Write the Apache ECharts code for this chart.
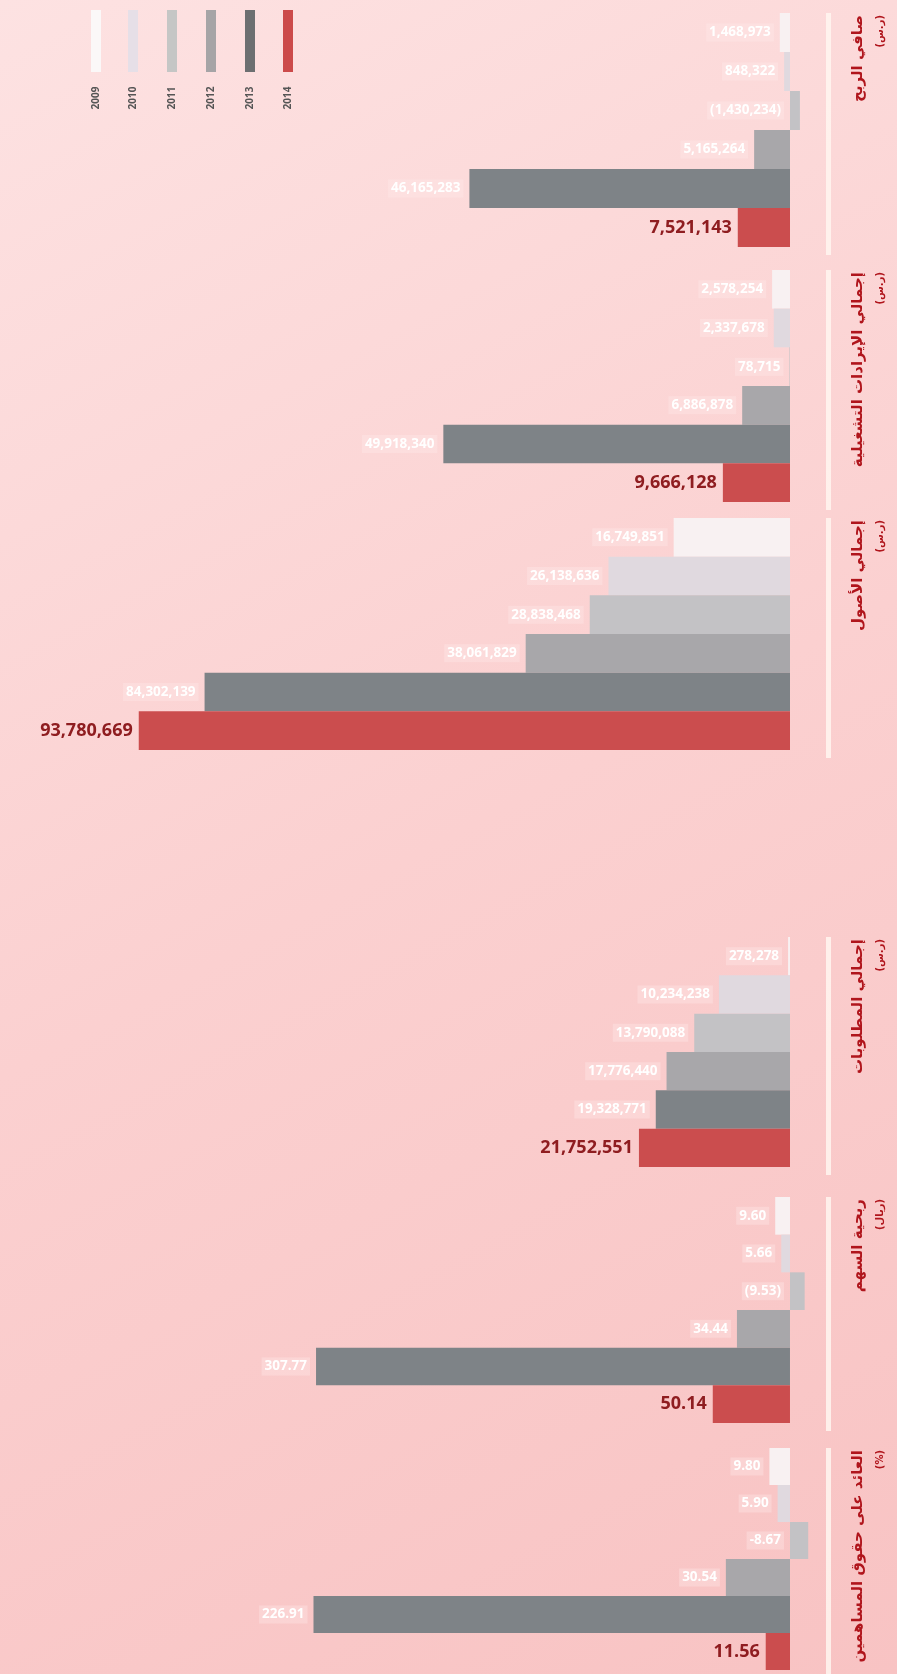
<!DOCTYPE html>
<html>
<head>
<meta charset="utf-8">
<script src="https://cdn.jsdelivr.net/npm/echarts@6/dist/echarts.min.js"></script>
<style>
  html,body{margin:0;padding:0;background:#fcd6d6;}
  #chart{width:897px;height:1674px;}
</style>
</head>
<body>
<div id="chart"></div>
<script>
// ---- data ----
const years = ['2009', '2010', '2011', '2012', '2013', '2014'];
const netProfit   = [1468973, 848322, -1430234, 5165264, 46165283, 7521143];
const revenue     = [2578254, 2337678, 78715, 6886878, 49918340, 9666128];
const assets      = [16749851, 26138636, 28838468, 38061829, 84302139, 93780669];
const liabilities = [278278, 10234238, 13790088, 17776440, 19328771, 21752551];
const eps         = [9.60, 5.66, -9.53, 34.44, 307.77, 50.14];
const roe         = [9.80, 5.90, -8.67, 30.54, 226.91, 11.56];

const titles = ['صافي الربح', 'إجمالي الإيرادات التشغيلية', 'إجمالي الأصول', 'إجمالي المطلوبات', 'ربحية السهم', 'العائد على حقوق المساهمين'];
const units  = ['(ر.س)', '(ر.س)', '(ر.س)', '(ر.س)', '(ريال)', '(%)'];

// ---- styles ----
const barColors = ['#f8f1f2', '#e0d9df', '#c3c2c5', '#a8a7aa', '#7e8387', '#cb4d4e'];
const legendColors = ['#fbf8f8', '#e6dfe7', '#c5c6c5', '#a6a4a6', '#6d6f71', '#cc4a4a'];
const titleColor = '#b0151c';

const groups = [
  {values: netProfit,   top: 13,   h: 234, min: -2880000, max: 112320000, dec: 0, neg: 'paren'},
  {values: revenue,     top: 270,  h: 232, min: -2880000, max: 112320000, dec: 0, neg: 'paren'},
  {values: assets,      top: 518,  h: 232, min: -2880000, max: 112320000, dec: 0, neg: 'paren'},
  {values: liabilities, top: 937,  h: 230, min: -2880000, max: 112320000, dec: 0, neg: 'paren'},
  {values: eps,         top: 1197, h: 226, min: -13,      max: 506.5,     dec: 2, neg: 'paren'},
  {values: roe,         top: 1448, h: 222, min: -9.524,   max: 371.43,    dec: 2, neg: 'minus'}
];

function fmt(v, dec, neg) {
  const s = Math.abs(v).toLocaleString('en-US', {minimumFractionDigits: dec, maximumFractionDigits: dec});
  if (v < 0) return neg === 'paren' ? '(' + s + ')' : '-' + s;
  return s;
}

const grid = [], xAxis = [], yAxis = [], series = [], graphic = [];
groups.forEach((g, gi) => {
  grid.push({left: 10, right: 87, top: g.top, height: g.h, containLabel: false});
  xAxis.push({type: 'value', gridIndex: gi, inverse: true, min: g.min, max: g.max, show: false});
  yAxis.push({type: 'category', gridIndex: gi, data: years, inverse: true, show: false});
  series.push({
    type: 'bar', xAxisIndex: gi, yAxisIndex: gi,
    barCategoryGap: '0%',
    silent: true,
    data: g.values.map((v, i) => ({
      value: v,
      itemStyle: {color: barColors[i]},
      label: i === 5 ? {
        color: '#8f1d20', fontSize: 18, fontWeight: 'bold'
      } : {
        color: '#ffffff', fontSize: 13.5, fontWeight: 'bold',
        backgroundColor: 'rgba(255,236,236,0.35)', padding: [2, 3]
      }
    })),
    label: {
      show: true, position: 'left', distance: 6,
      fontFamily: 'Open Sans',
      formatter: p => fmt(p.value, g.dec, g.neg)
    }
  });
  // white separator line next to the baseline
  graphic.push({
    type: 'rect', shape: {x: 826, y: g.top, width: 5, height: g.h + 8},
    style: {fill: 'rgba(255,246,240,0.85)'}, silent: true
  });
  // rotated title
  graphic.push({
    type: 'text', x: 858, y: g.top + 2, rotation: Math.PI / 2,
    style: {text: titles[gi], fill: titleColor, font: 'bold 15px "DejaVu Sans"', align: 'right', verticalAlign: 'middle'},
    silent: true
  });
  graphic.push({
    type: 'text', x: 880, y: g.top + 2, rotation: Math.PI / 2,
    style: {text: units[gi], fill: titleColor, font: 'bold 10px "DejaVu Sans"', align: 'right', verticalAlign: 'middle'},
    silent: true
  });
});

// legend (vertical swatches with rotated year labels)
const legendX = [96, 133, 172, 211, 250, 288];
years.forEach((y, i) => {
  graphic.push({
    type: 'rect', shape: {x: legendX[i] - 5, y: 10, width: 10, height: 62},
    style: {fill: legendColors[i]}, silent: true
  });
  graphic.push({
    type: 'text', x: legendX[i], y: 98, rotation: Math.PI / 2,
    style: {text: y, fill: '#555', font: 'bold 10px "Open Sans"', align: 'center', verticalAlign: 'middle'},
    silent: true
  });
});

const chart = echarts.init(document.getElementById('chart'));
chart.setOption({
  animation: false,
  backgroundColor: {
    type: 'linear', x: 0, y: 0, x2: 1, y2: 1,
    colorStops: [{offset: 0, color: '#fde2e2'}, {offset: 0.5, color: '#fbd0d0'}, {offset: 1, color: '#f8c3c3'}]
  },
  grid, xAxis, yAxis, series, graphic
});
</script>
</body>
</html>
